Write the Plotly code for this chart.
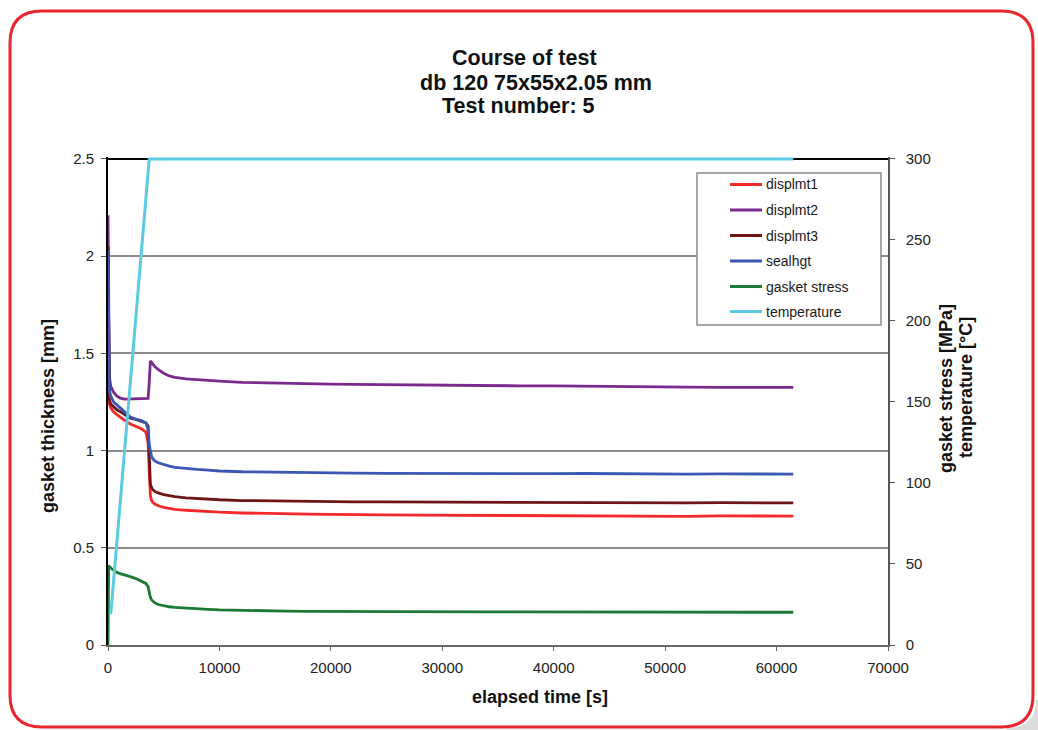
import plotly.graph_objects as go

# ---------------- data ----------------
time_s = [0, 60, 120, 250, 500, 800, 1100, 1500, 2000, 2500, 3000, 3400, 3600, 3700,
          3800, 3900, 4000, 4200, 4500, 5000, 5500, 6000, 7000, 8000, 9000, 10000,
          12000, 14000, 16000, 18000, 20000, 22000, 25000, 28000, 31000, 34000, 37000,
          40000, 43000, 46000, 49000, 52000, 55000, 58000, 61500]

displmt1 = [2.05, 1.26, 1.24, 1.22, 1.20, 1.185, 1.17, 1.155, 1.137, 1.125, 1.112, 1.095, 1.04, 0.90,
            0.77, 0.745, 0.735, 0.725, 0.716, 0.708, 0.702, 0.698, 0.693, 0.689, 0.686, 0.683,
            0.679, 0.676, 0.674, 0.673, 0.672, 0.670, 0.669, 0.668, 0.667, 0.668, 0.666,
            0.667, 0.666, 0.665, 0.664, 0.662, 0.664, 0.663, 0.663]

displmt2 = [2.21, 1.53, 1.38, 1.33, 1.30, 1.28, 1.27, 1.265, 1.265, 1.265, 1.265, 1.265, 1.268, 1.35,
            1.46, 1.455, 1.445, 1.432, 1.418, 1.397, 1.384, 1.377, 1.369, 1.364, 1.360, 1.357,
            1.351, 1.348, 1.345, 1.343, 1.342, 1.340, 1.338, 1.337, 1.335, 1.334, 1.333,
            1.333, 1.331, 1.327, 1.325, 1.326, 1.325, 1.326, 1.325]

displmt3 = [2.05, 1.28, 1.26, 1.24, 1.225, 1.21, 1.20, 1.185, 1.167, 1.16, 1.152, 1.142, 1.125, 0.96,
            0.83, 0.81, 0.80, 0.79, 0.782, 0.774, 0.768, 0.763, 0.757, 0.753, 0.750, 0.747,
            0.743, 0.741, 0.739, 0.738, 0.737, 0.736, 0.736, 0.735, 0.734, 0.734, 0.733,
            0.733, 0.732, 0.733, 0.732, 0.731, 0.732, 0.731, 0.731]

sealhgt = [2.03, 1.40, 1.31, 1.28, 1.25, 1.235, 1.218, 1.198, 1.172, 1.162, 1.155, 1.142, 1.11, 1.03,
           0.99, 0.972, 0.96, 0.947, 0.937, 0.927, 0.92, 0.914, 0.907, 0.903, 0.899, 0.895,
           0.891, 0.889, 0.887, 0.886, 0.885, 0.884, 0.883, 0.882, 0.882, 0.881, 0.881,
           0.881, 0.882, 0.880, 0.880, 0.879, 0.880, 0.879, 0.879]

gasket_stress = [0, 49, 48.5, 47.5, 46, 44.8, 44, 43, 42.2, 41, 39.5, 38, 36, 32,
                 29.5, 28, 27.2, 26, 25, 24.2, 23.6, 23.2, 22.7, 22.3, 22.0, 21.7,
                 21.3, 21.1, 20.9, 20.8, 20.7, 20.6, 20.6, 20.5, 20.5, 20.4, 20.4,
                 20.4, 20.3, 20.3, 20.3, 20.2, 20.3, 20.2, 20.2]

temp_time_s = [250, 3700, 61500]
temperature = [19, 300, 300]

series_names = ["displmt1", "displmt2", "displmt3", "sealhgt", "gasket stress", "temperature"]
series_colors = ["#f5282a", "#7a2a8c", "#6e1616", "#3a57b3", "#1d7a35", "#5ccbe2"]

x_ticks = [0, 10000, 20000, 30000, 40000, 50000, 60000, 70000]

# ---------------- layout geometry ----------------
FW, FH = 1038, 730
L, R, T, B = 108, 150, 157, 85
W = FW - L - R
H = FH - T - B
FONT = "Liberation Sans, Arial, sans-serif"


def px(x):
    return (x - L) / W


def py(y):
    return (FH - B - y) / H


fig = go.Figure()

left_series = [displmt1, displmt2, displmt3, sealhgt]
for name, vals, col in zip(series_names[:4], left_series, series_colors[:4]):
    fig.add_trace(go.Scatter(x=time_s, y=vals, mode="lines", name=name,
                             line=dict(color=col, width=2.8), showlegend=False))

fig.add_trace(go.Scatter(x=time_s, y=gasket_stress, mode="lines", name=series_names[4],
                         line=dict(color=series_colors[4], width=2.8), yaxis="y2",
                         showlegend=False))
fig.add_trace(go.Scatter(x=temp_time_s, y=temperature, mode="lines", name=series_names[5],
                         line=dict(color=series_colors[5], width=3), yaxis="y2",
                         showlegend=False))

shapes = []
# black top line at 2.5
shapes.append(dict(type="line", xref="x", yref="y", x0=0, x1=70000, y0=2.5, y1=2.5,
                   line=dict(color="black", width=2), layer="between"))

# custom legend
lx0, ly0, lx1, ly1 = 697, 173, 881, 325
shapes.append(dict(type="rect", xref="paper", yref="paper",
                   x0=px(lx0), x1=px(lx1), y0=py(ly1), y1=py(ly0),
                   line=dict(color="#8a8a8a", width=1.5), fillcolor="white", layer="above"))
item_y = [184.5, 210, 235.5, 261, 286.5, 311.5]
annotations = []
for name, col, yy in zip(series_names, series_colors, item_y):
    shapes.append(dict(type="line", xref="paper", yref="paper",
                       x0=px(730), x1=px(762), y0=py(yy), y1=py(yy),
                       line=dict(color=col, width=3), layer="above"))
    annotations.append(dict(text=name, xref="paper", yref="paper", x=px(764), y=py(yy),
                            xanchor="left", yanchor="middle", showarrow=False,
                            font=dict(family=FONT, size=14, color="#1a1a1a")))

# grey corner outside the frame (bottom right)
corner = "M {},{} Q {},{} {},{} L {},{} L {},{} L {},{} Z".format(
    px(1036), py(700), px(1036), py(728), px(1006), py(728),
    px(1006), py(730), px(1038), py(730), px(1038), py(700))
shapes.append(dict(type="path", xref="paper", yref="paper", path=corner,
                   fillcolor="#dcdcdc", line=dict(width=0), layer="below"))

# red rounded frame
x0, x1, y0, y1, r = 10, 1033, 11, 727, 32
pts = [("M", x0 + r, y0), ("L", x1 - r, y0), ("Q", x1, y0, x1, y0 + r), ("L", x1, y1 - r),
       ("Q", x1, y1, x1 - r, y1), ("L", x0 + r, y1), ("Q", x0, y1, x0, y1 - r),
       ("L", x0, y0 + r), ("Q", x0, y0, x0 + r, y0)]
path = ""
for p in pts:
    cmd = p[0]
    coords = p[1:]
    seg = [f"{px(coords[i]):.5f},{py(coords[i + 1]):.5f}" for i in range(0, len(coords), 2)]
    path += cmd + " " + " ".join(seg) + " "
path += "Z"
shapes.append(dict(type="path", xref="paper", yref="paper", path=path,
                   line=dict(color="#e8262b", width=3), layer="above"))

# titles
for txt, cx, cy in [("Course of test", 524, 58), ("db 120 75x55x2.05 mm", 536, 83),
                    ("Test number: 5", 518, 106)]:
    annotations.append(dict(text=f"<b>{txt}</b>", xref="paper", yref="paper",
                            x=px(cx), y=py(cy), xanchor="center", yanchor="middle",
                            showarrow=False, font=dict(family=FONT, size=21.5, color="#111")))

annotations.append(dict(text="<b>elapsed time [s]</b>", xref="paper", yref="paper",
                        x=px(540), y=py(697), xanchor="center", yanchor="middle",
                        showarrow=False, font=dict(family=FONT, size=18, color="#111")))
annotations.append(dict(text="<b>gasket thickness [mm]</b>", xref="paper", yref="paper",
                        x=px(48), y=py(416), xanchor="center", yanchor="middle", textangle=-90,
                        showarrow=False, font=dict(family=FONT, size=18, color="#111")))
annotations.append(dict(text="<b>gasket stress [MPa]</b>", xref="paper", yref="paper",
                        x=px(946), y=py(389), xanchor="center", yanchor="middle", textangle=-90,
                        showarrow=False, font=dict(family=FONT, size=18, color="#111")))
annotations.append(dict(text="<b>temperature [°C]</b>", xref="paper", yref="paper",
                        x=px(966), y=py(388), xanchor="center", yanchor="middle", textangle=-90,
                        showarrow=False, font=dict(family=FONT, size=18, color="#111")))

tickfont = dict(family=FONT, size=15, color="#222")

fig.update_layout(
    width=FW, height=FH,
    margin=dict(l=L, r=R, t=T, b=B, pad=0),
    paper_bgcolor="white", plot_bgcolor="white",
    showlegend=False,
    shapes=shapes, annotations=annotations,
    xaxis=dict(range=[0, 70000], tickvals=x_ticks, tickformat="d",
               showgrid=False, zeroline=False,
               showline=True, linecolor="#666", linewidth=1.5,
               ticks="outside", ticklen=4, tickcolor="#666", tickwidth=1,
               tickfont=tickfont, ticklabelstandoff=4),
    yaxis=dict(range=[0, 2.51], tickvals=[0, 0.5, 1, 1.5, 2, 2.5],
               ticktext=["0", "0.5", "1", "1.5", "2", "2.5"],
               showgrid=True, gridcolor="#8c8c8c", gridwidth=1.5, zeroline=False,
               showline=True, linecolor="black", linewidth=2,
               ticks="outside", ticklen=5, tickcolor="#555", tickwidth=1,
               tickfont=tickfont, ticklabelstandoff=4),
    yaxis2=dict(range=[0, 301.2], tickvals=[0, 50, 100, 150, 200, 250, 300],
                overlaying="y", side="right", showgrid=False, zeroline=False,
                showline=True, linecolor="#555", linewidth=1.5,
                ticks="outside", ticklen=5, tickcolor="#555", tickwidth=1,
                tickfont=tickfont, ticklabelstandoff=8),
)

fig.write_html("out.html",
               config={"displayModeBar": False},
               post_script="document.body.style.margin='0px';document.body.style.overflow='hidden';")
